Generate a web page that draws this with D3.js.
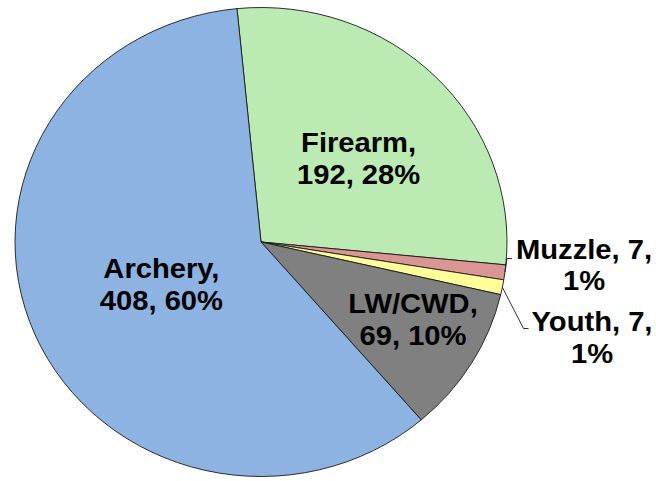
<!DOCTYPE html>
<html>
<head>
<meta charset="utf-8">
<script src="https://cdn.jsdelivr.net/npm/d3@7"></script>
<style>
  body { margin: 0; background: #fff; }
  svg { display: block; }
  .lbl { font-family: "Liberation Sans", Arial, sans-serif; font-weight: bold; font-size: 27px; fill: #000; }
</style>
</head>
<body>
<div id="chart"></div>
<script>
// data
const categories = ['Firearm', 'Muzzle', 'Youth', 'LW/CWD', 'Archery'];
const values = [192, 7, 7, 69, 408];
const colors = ['#bbeab2', '#d99694', '#ffff99', '#808080', '#8db3e2'];

//Set up DOM scaffolding
const width = 656, height = 481;
const cx = 261, cy = 242;
const rx = 246, ry = 234.5;
const startDeg = -5.6;

// label layout: centre x, first baseline, optional leader elbow/end
const labelLayout = {
	'Firearm': {x: 358.6, y: 152},
	'Muzzle':  {x: 584, y: 258.5, elbow: [507, 258.5], end: 512},
	'Youth':   {x: 592, y: 331, elbow: [523.5, 328.5], end: 528.5},
	'LW/CWD':  {x: 413, y: 313.3},
	'Archery': {x: 161.4, y: 277.8}
};
const lineGap = 32;

const svg = d3.select('#chart')
	.append('svg')
	.attr('width', width)
	.attr('height', height);

const total = d3.sum(values);
const data = categories.map((c, i) => ({name: c, value: values[i], color: colors[i]}));

const a0 = startDeg * Math.PI / 180;
const pie = d3.pie()
	.sort(null)
	.value(d => d.value)
	.startAngle(a0)
	.endAngle(a0 + 2 * Math.PI);
const arcs = pie(data);

const arc = d3.arc().innerRadius(0).outerRadius(ry);

//Draw slices (stretched horizontally into an ellipse)
const plot = svg.append('g')
	.attr('transform', `translate(${cx},${cy}) scale(${rx / ry},1)`);

plot.selectAll('.slice')
	.data(arcs)
	.enter()
	.append('path')
	.attr('class', 'slice')
	.attr('d', arc)
	.style('fill', d => d.data.color)
	.style('stroke', '#1a1a1a')
	.style('stroke-width', 0.9)
	.attr('vector-effect', 'non-scaling-stroke');

//Leader lines
const outerPoint = d => {
	const a = (d.startAngle + d.endAngle) / 2;
	return [cx + rx * Math.sin(a), cy - ry * Math.cos(a)];
};
svg.selectAll('.leader')
	.data(arcs.filter(d => labelLayout[d.data.name].elbow))
	.enter()
	.append('polyline')
	.attr('class', 'leader')
	.attr('points', d => {
		const L = labelLayout[d.data.name];
		const p = outerPoint(d);
		return [p, L.elbow, [L.end, L.elbow[1]]].map(q => q.join(',')).join(' ');
	})
	.style('fill', 'none')
	.style('stroke', '#1a1a1a')
	.style('stroke-width', 0.9);

//Labels
const fmtPct = v => Math.round(v / total * 100) + '%';
const labels = svg.selectAll('.lbl')
	.data(arcs)
	.enter()
	.append('text')
	.attr('class', 'lbl')
	.attr('text-anchor', 'middle')
	.attr('transform', d => {
		const L = labelLayout[d.data.name];
		return `translate(${L.x},${L.y}) scale(1.08,1)`;
	});

labels.each(function(d) {
	const small = d.data.value < 20;
	const line1 = small ? `${d.data.name}, ${d.data.value},` : `${d.data.name},`;
	const line2 = small ? fmtPct(d.data.value) : `${d.data.value}, ${fmtPct(d.data.value)}`;
	const t = d3.select(this);
	t.append('tspan').attr('x', 0).attr('y', 0).text(line1);
	t.append('tspan').attr('x', 0).attr('y', lineGap).text(line2);
});
</script>
</body>
</html>
